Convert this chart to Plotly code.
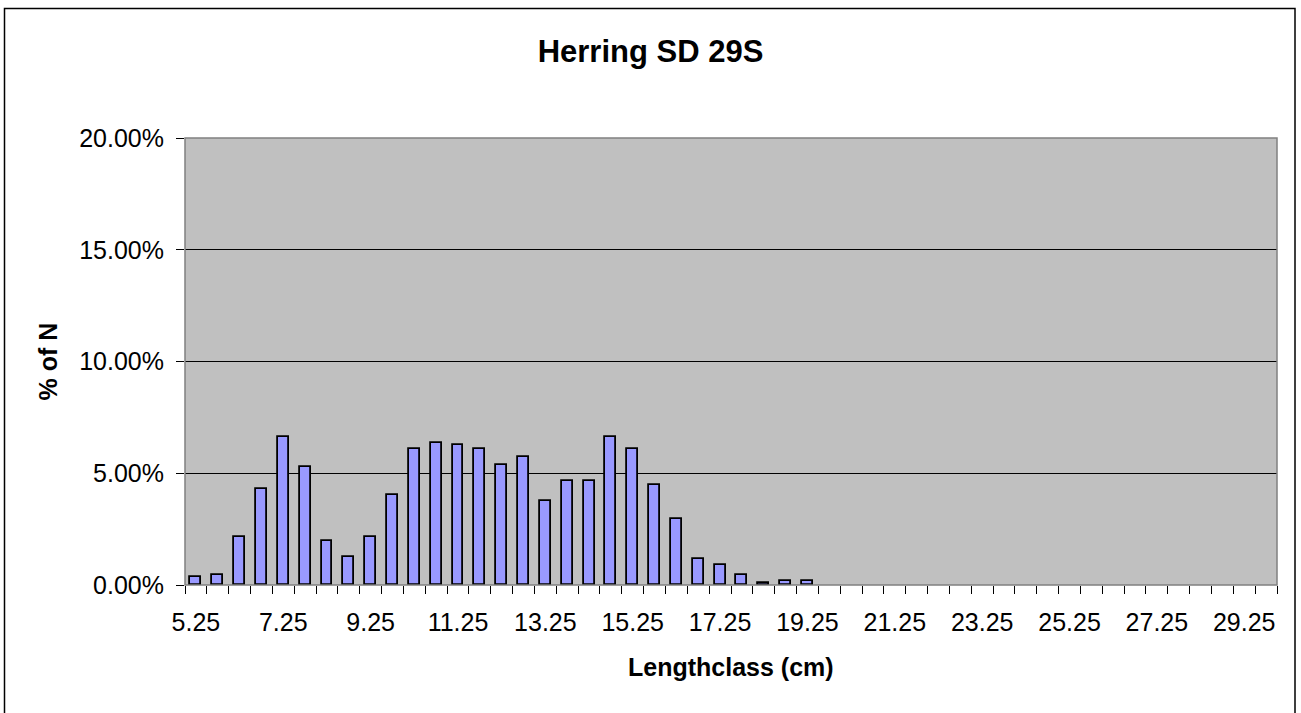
import plotly.graph_objects as go

# Data
length_classes = [5.25 + 0.5 * i for i in range(50)]
pct_values = [0.34, 0.43, 2.15, 4.30, 6.61, 5.27, 1.96, 1.24, 2.15, 4.01,
              6.07, 6.36, 6.25, 6.07, 5.36, 5.72, 3.75, 4.64, 4.64, 6.61,
              6.07, 4.46, 2.94, 1.16, 0.90, 0.45, 0.10, 0.18, 0.18] + [0.0] * 21
pct_values = [v / 100 for v in pct_values]
tick_labels = ["5.25", "7.25", "9.25", "11.25", "13.25", "15.25", "17.25",
               "19.25", "21.25", "23.25", "25.25", "27.25", "29.25"]
tick_positions = [float(t) for t in tick_labels]
boundaries = [5.0 + 0.5 * i for i in range(51)]

FONT = "Liberation Sans, Arial, sans-serif"

outline_widths = [1.8 if v > 0 else 0 for v in pct_values]

fig = go.Figure()
fig.add_trace(go.Bar(
    x=length_classes, y=pct_values, width=0.25,
    marker=dict(color="#9999FF", line=dict(color="#000000", width=outline_widths)),
    hoverinfo="x+y",
))

W, H = 1301, 713
L, R, T, B = 185, 1277, 138, 585

fig.update_layout(
    width=W, height=H,
    margin=dict(l=L, r=W - R, t=T, b=H - B),
    paper_bgcolor="white", plot_bgcolor="#C0C0C0",
    showlegend=False,
    font=dict(family=FONT, color="black", size=25),
    title=dict(text="Herring SD 29S", x=0.5, xanchor="center",
               yref="container", y=1 - 51 / H, yanchor="middle",
               font=dict(family=FONT, size=31, weight="bold", color="black")),
    bargap=0,
)

fig.update_xaxes(
    range=[5.0, 30.0], showgrid=False, zeroline=False,
    tickmode="array", tickvals=tick_positions, ticktext=tick_labels,
    ticks="", tickfont=dict(size=25, family=FONT), ticklabelstandoff=20,
    minor=dict(tickmode="array", tickvals=boundaries, ticks="outside",
               ticklen=8, tickcolor="black", tickwidth=1, showgrid=False),
    showline=False,
)
fig.update_yaxes(
    range=[0, 0.2], dtick=0.05, tickformat=".2%",
    showgrid=True, gridcolor="black", gridwidth=1, zeroline=False,
    ticks="outside", ticklen=8, tickcolor="black", tickwidth=1,
    tickfont=dict(size=25, family=FONT), ticklabelstandoff=7,
    showline=False,
)

# plot area border
fig.add_shape(type="rect", xref="paper", yref="paper", x0=0, x1=1, y0=0, y1=1,
              line=dict(color="#808080", width=1.5), layer="above")
# outer chart border
fig.add_shape(type="rect", xref="paper", yref="paper",
              x0=(4.5 - L) / (R - L), x1=(1295 - L) / (R - L),
              y0=(B - 730) / (B - T), y1=(B - 8.5) / (B - T),
              line=dict(color="black", width=1.5), layer="above")

fig.add_annotation(text="Lengthclass (cm)", xref="paper", yref="paper",
                   x=0.5, y=(B - 667) / (B - T), xanchor="center", yanchor="middle",
                   showarrow=False, font=dict(family=FONT, size=25, weight="bold"))
fig.add_annotation(text="% of N", xref="paper", yref="paper", textangle=-90,
                   x=(47 - L) / (R - L), y=0.5, xanchor="center", yanchor="middle",
                   showarrow=False, font=dict(family=FONT, size=25, weight="bold"))

fig.write_html("out.html")
